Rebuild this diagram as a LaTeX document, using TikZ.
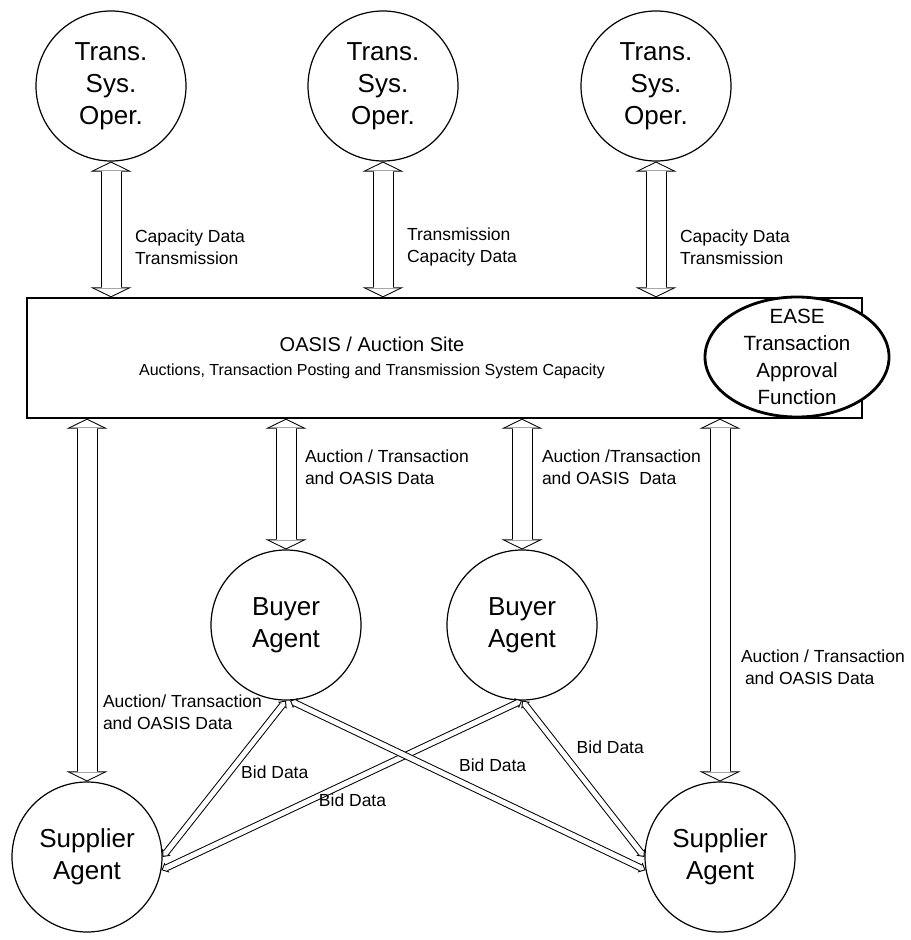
\documentclass[tikz,border=0pt]{standalone}
\usepackage{fontspec}
\setmainfont{Liberation Sans}
\usetikzlibrary{arrows.meta,shapes}

% hollow two-way pipe: black outline first, white core over it
\newcommand{\pipeline}[3]{\path[#1, outline] #2 -- #3; \path[#1, core] #2 -- #3}

\begin{document}
\begin{tikzpicture}[x=0.5pt, y=-0.5pt, every node/.style={align=center}]
	\tikzstyle{agent} = [circle, draw, line width=0.6pt, minimum size=75pt, inner sep=0pt, font=\fontsize{13}{16}\selectfont]
	\tikzstyle{lbl} = [font=\fontsize{8.75}{11}\selectfont, align=left, inner sep=1pt, outer sep=0pt]
	\tikzset{
		pipe/.style={outline/.style={draw, line width=10.5pt, {Triangle[line width=0pt, length=5pt, width=20.5pt]}-{Triangle[line width=0pt, length=5pt, width=20.5pt]}},
			core/.style={draw=white, line width=9.5pt, shorten >=0.56pt, shorten <=0.56pt, {Triangle[line width=0pt, length=3.94pt, width=16.2pt]}-{Triangle[line width=0pt, length=3.94pt, width=16.2pt]}}},
		bidpipe/.style={outline/.style={draw, line width=3.5pt, {Triangle[line width=0pt, length=3pt, width=5.5pt]}-{Triangle[line width=0pt, length=3pt, width=5.5pt]}},
			core/.style={draw=white, line width=2.5pt, shorten >=0.78pt, shorten <=0.78pt, {Triangle[line width=0pt, length=1.72pt, width=3.2pt]}-{Triangle[line width=0pt, length=1.72pt, width=3.2pt]}}}
	}
	\useasboundingbox (0,0) rectangle (910,940);
	% operators
	\node [agent] (tso1) at (111,86) {Trans.\\Sys.\\Oper.};
	\node [agent] (tso2) at (383,86) {Trans.\\Sys.\\Oper.};
	\node [agent] (tso3) at (656,86) {Trans.\\Sys.\\Oper.};
	% auction site
	\node [rectangle, draw, line width=0.7pt, minimum width=417.5pt, minimum height=60pt] (oasis) at (444.5,358) {};
	\node [align=center] (oasistext) at (372,358) {{\fontsize{10}{11}\selectfont OASIS / Auction Site}\\{\fontsize{8}{11}\selectfont Auctions, Transaction Posting and Transmission System Capacity}};
	\node [ellipse, draw, line width=1.4pt, fill=white, minimum width=92pt, minimum height=60pt, inner sep=0pt,
		label={[font=\fontsize{10.3}{13.5}\selectfont, align=center]center:EASE\\Transaction\\Approval\\Function}] (ease) at (797,357) {};
	% agents
	\node [agent] (buyer1) at (286,625) {Buyer\\Agent};
	\node [agent] (buyer2) at (522,625) {Buyer\\Agent};
	\node [agent] (supl) at (87,857) {Supplier\\Agent};
	\node [agent] (supr) at (720,857) {Supplier\\Agent};
	% operator links
	\pipeline{pipe}{(tso1)}{(tso1 |- oasis.north)} node [lbl, pos=0.63, right=11pt] {Capacity Data\\Transmission};
	\pipeline{pipe}{(tso2)}{(tso2 |- oasis.north)} node [lbl, pos=0.63, right=11pt] {Transmission\\Capacity Data};
	\pipeline{pipe}{(tso3)}{(tso3 |- oasis.north)} node [lbl, pos=0.63, right=11pt] {Capacity Data\\Transmission};
	% agent links
	\pipeline{pipe}{(oasis.south -| supl)}{(supl)} node [lbl, pos=0.81, right=7pt] {Auction/ Transaction\\and OASIS Data};
	\pipeline{pipe}{(oasis.south -| buyer1)}{(buyer1)} node [lbl, pos=0.37, right=8.5pt] {Auction / Transaction\\and OASIS Data};
	\pipeline{pipe}{(oasis.south -| buyer2)}{(buyer2)} node [lbl, pos=0.37, right=9pt] {Auction /Transaction\\and OASIS~ Data};
	\pipeline{pipe}{(oasis.south -| supr)}{(supr)} node [lbl, pos=0.685, right=9.5pt] {Auction / Transaction\\\hspace{2pt}and OASIS Data};
	% bids
	\pipeline{bidpipe}{(buyer1.south)}{(supl.east)} node [lbl, pos=0.46, right=5pt] {Bid Data};
	\pipeline{bidpipe}{(buyer2.south)}{(supl.-10)} node [lbl, pos=0.47, below=6pt] {Bid Data};
	\pipeline{bidpipe}{([xshift=2pt]buyer1.south)}{(supr.190)} node [lbl, pos=0.57, above=12pt] {Bid Data};
	\pipeline{bidpipe}{(buyer2.south)}{(supr.west)} node [lbl, pos=0.3, right=8pt] {Bid Data};
\end{tikzpicture}
\end{document}
